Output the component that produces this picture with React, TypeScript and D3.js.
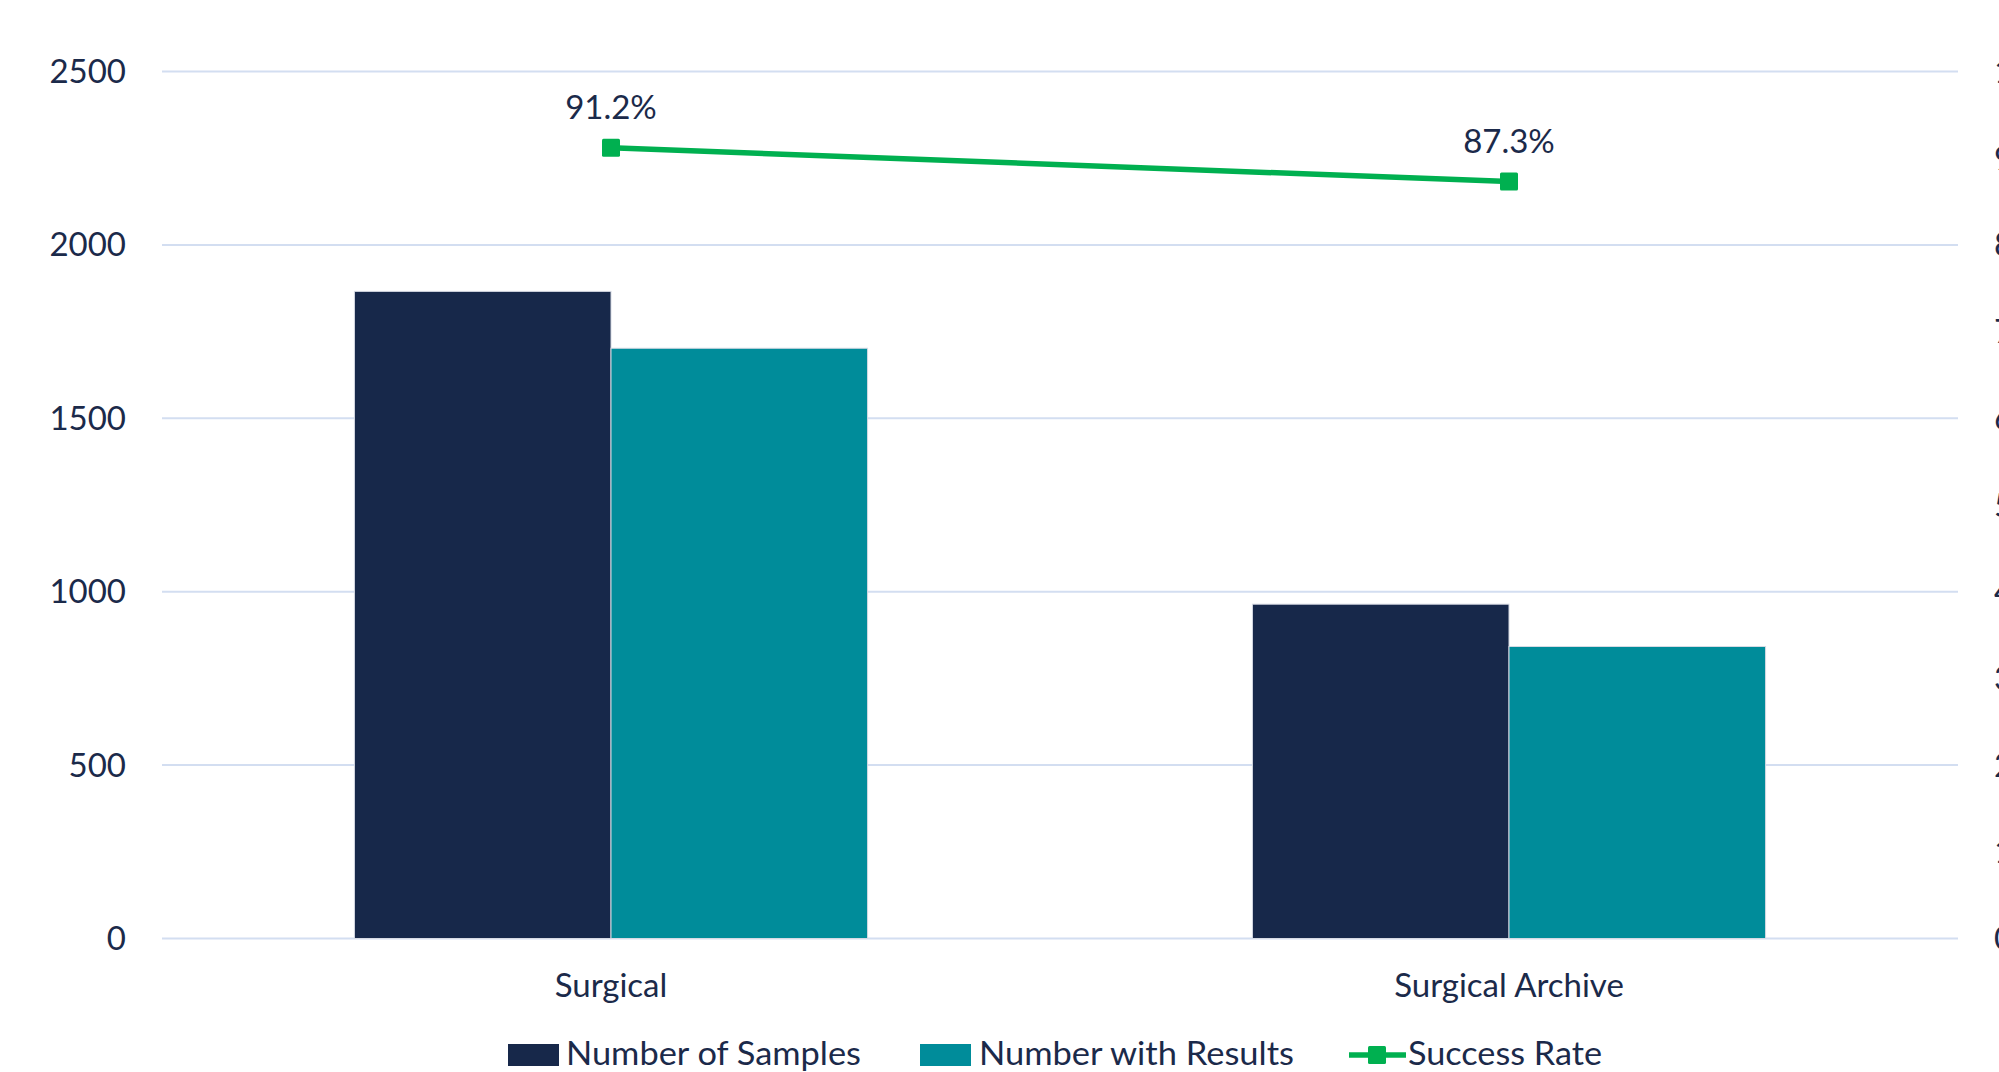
import React from "react";
import * as d3 from "d3";

const categories = ["Surgical", "Surgical Archive"];
const numberOfSamples = [1866, 964];
const numberWithResults = [1702, 842];
const successRate = [91.2, 87.3];
const leftTicks = [0, 500, 1000, 1500, 2000, 2500];
const rightTicks = [0, 10, 20, 30, 40, 50, 60, 70, 80, 90, 100];
const seriesNames = ["Number of Samples", "Number with Results", "Success Rate"];

const W = 1999;
const H = 1072;
const FONT = "Lato, 'Open Sans', sans-serif";
const TEXT = "#1b2a4a";
const NAVY = "#17284a";
const TEAL = "#008c9a";
const GREEN = "#00b050";
const GRID = "#d3def1";

export default function App() {
  const left = 162;
  const right = 1958;
  const top = 71.5;
  const bottom = 938.5;

  const y = d3.scaleLinear().domain([0, 2500]).range([bottom, top]);
  const yR = d3.scaleLinear().domain([0, 100]).range([bottom, top]);
  const x0 = d3.scaleBand<string>().domain(categories).range([left, right]).paddingInner(0).paddingOuter(0);
  const x1 = d3
    .scaleBand<string>()
    .domain(["samples", "results"])
    .range([0, x0.bandwidth()])
    .paddingInner(0)
    .paddingOuter(0.75);

  const bars = categories.flatMap((c, i) => [
    { key: `s-${i}`, x: (x0(c) as number) + (x1("samples") as number), v: numberOfSamples[i], fill: NAVY },
    { key: `r-${i}`, x: (x0(c) as number) + (x1("results") as number), v: numberWithResults[i], fill: TEAL },
  ]);

  const pts = categories.map((c, i) => ({
    x: (x0(c) as number) + x0.bandwidth() / 2,
    y: yR(successRate[i]),
    v: successRate[i],
  }));
  const line = d3
    .line<{ x: number; y: number }>()
    .x((d) => d.x)
    .y((d) => d.y);

  const legendY = 1055;

  return (
    <svg
      width={W}
      height={H}
      viewBox={`0 0 ${W} ${H}`}
      style={{ position: "absolute", left: 0, top: 0, background: "#fff" }}
      fontFamily={FONT}
    >
      <rect x={0} y={0} width={W} height={H} fill="#fff" />

      {/* gridlines */}
      {leftTicks.map((t) => (
        <line key={t} x1={left} x2={right} y1={y(t)} y2={y(t)} stroke={GRID} strokeWidth={2} />
      ))}

      {/* left axis labels */}
      {leftTicks.map((t) => (
        <text key={t} x={126} y={y(t)} dy="0.35em" textAnchor="end" fontSize={33} fill={TEXT}>
          {t}
        </text>
      ))}

      {/* right axis labels (run past the right edge) */}
      {rightTicks.map((t) => (
        <text key={t} x={1994} y={yR(t)} dy="0.35em" textAnchor="start" fontSize={33} fill={TEXT}>
          {`${t}%`}
        </text>
      ))}

      {/* bars */}
      {bars.map((b) => (
        <rect
          key={b.key}
          x={b.x}
          y={y(b.v)}
          width={x1.bandwidth()}
          height={bottom - y(b.v)}
          fill={b.fill}
          stroke="#d6dae3"
          strokeWidth={1}
        />
      ))}

      {/* success rate line */}
      <path d={line(pts) || ""} fill="none" stroke={GREEN} strokeWidth={5.5} />
      {pts.map((p, i) => (
        <g key={i}>
          <rect x={p.x - 9} y={p.y - 9} width={18} height={18} rx={1.5} fill={GREEN} />
          <text x={p.x} y={p.y - 29} textAnchor="middle" fontSize={33} fill={TEXT}>
            {`${p.v.toFixed(1)}%`}
          </text>
        </g>
      ))}

      {/* category labels */}
      {categories.map((c) => (
        <text
          key={c}
          x={(x0(c) as number) + x0.bandwidth() / 2}
          y={997}
          textAnchor="middle"
          fontSize={33}
          fill={TEXT}
        >
          {c}
        </text>
      ))}

      {/* legend */}
      <rect x={508} y={legendY - 11} width={51} height={22} fill={NAVY} />
      <text x={566} y={legendY + 10} fontSize={33} fill={TEXT} textLength={295} lengthAdjust="spacingAndGlyphs">
        {seriesNames[0]}
      </text>
      <rect x={920} y={legendY - 11} width={51} height={22} fill={TEAL} />
      <text x={979} y={legendY + 10} fontSize={33} fill={TEXT} textLength={315} lengthAdjust="spacingAndGlyphs">
        {seriesNames[1]}
      </text>
      <line x1={1349} x2={1406} y1={legendY} y2={legendY} stroke={GREEN} strokeWidth={5.5} />
      <rect x={1368} y={legendY - 9} width={18} height={18} rx={1.5} fill={GREEN} />
      <text x={1408} y={legendY + 10} fontSize={33} fill={TEXT} textLength={194} lengthAdjust="spacingAndGlyphs">
        {seriesNames[2]}
      </text>
    </svg>
  );
}
